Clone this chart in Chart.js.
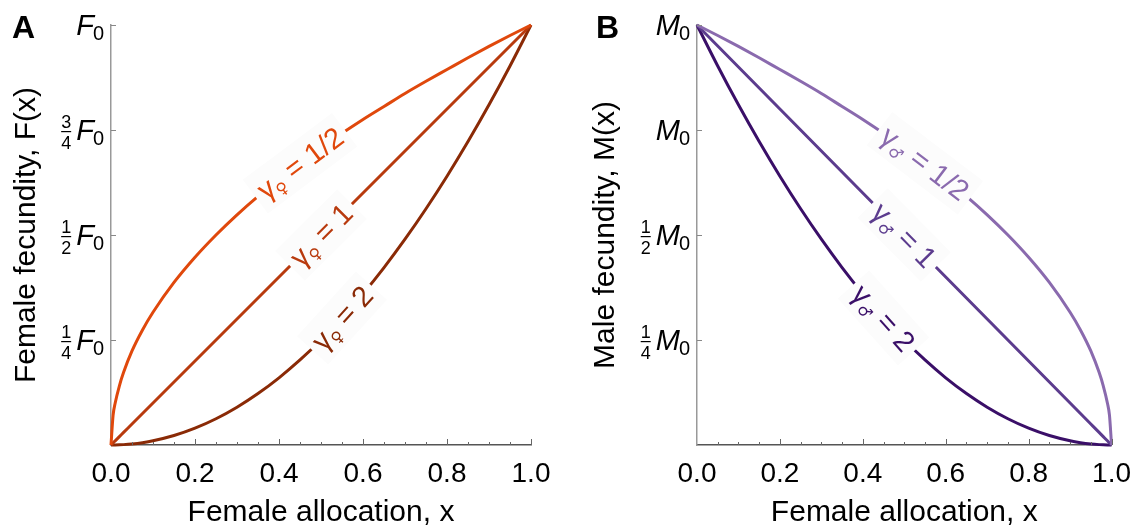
<!DOCTYPE html>
<html>
<head>
<meta charset="utf-8">
<script src="https://cdn.jsdelivr.net/npm/chart.js@4.4.1/dist/chart.umd.min.js"></script>
<style>
	html, body { margin: 0; padding: 0; background: #fff; }
	#wrap { position: relative; width: 1143px; height: 531px; overflow: hidden; }
	#wrap canvas { position: absolute; top: 0; }
</style>
</head>
<body>
<div id="wrap">
	<canvas id="chartA" width="571" height="531" style="left:0"></canvas>
	<canvas id="chartB" width="572" height="531" style="left:571px"></canvas>
</div>
<script>
'use strict';

// female allocation sampled along each panel (denser where the curves are steep)
var xFemale = [0, 0.005, 0.01, 0.02, 0.03, 0.05, 0.075, 0.1, 0.15, 0.2, 0.25, 0.3, 0.35, 0.4, 0.45, 0.5, 0.55, 0.6, 0.65, 0.7, 0.75, 0.8, 0.85, 0.9, 0.95, 1.0];
var xMale = [0, 0.05, 0.1, 0.15, 0.2, 0.25, 0.3, 0.35, 0.4, 0.45, 0.5, 0.55, 0.6, 0.65, 0.7, 0.75, 0.8, 0.85, 0.9, 0.925, 0.95, 0.97, 0.98, 0.99, 0.995, 1.0];

// panel A : female fecundity (in units of F0)
var fGammaHalf = [0, 0.071, 0.1, 0.141, 0.173, 0.224, 0.274, 0.316, 0.387, 0.447, 0.5, 0.548, 0.592, 0.632, 0.671, 0.707, 0.742, 0.775, 0.806, 0.837, 0.866, 0.894, 0.922, 0.949, 0.975, 1.0];
var fGammaOne = [0, 0.005, 0.01, 0.02, 0.03, 0.05, 0.075, 0.1, 0.15, 0.2, 0.25, 0.3, 0.35, 0.4, 0.45, 0.5, 0.55, 0.6, 0.65, 0.7, 0.75, 0.8, 0.85, 0.9, 0.95, 1.0];
var fGammaTwo = [0, 0.00003, 0.0001, 0.0004, 0.0009, 0.0025, 0.0056, 0.01, 0.0225, 0.04, 0.0625, 0.09, 0.1225, 0.16, 0.2025, 0.25, 0.3025, 0.36, 0.4225, 0.49, 0.5625, 0.64, 0.7225, 0.81, 0.9025, 1.0];

// panel B : male fecundity (in units of M0)
var mGammaHalf = [1.0, 0.975, 0.949, 0.922, 0.894, 0.866, 0.837, 0.806, 0.775, 0.742, 0.707, 0.671, 0.632, 0.592, 0.548, 0.5, 0.447, 0.387, 0.316, 0.274, 0.224, 0.173, 0.141, 0.1, 0.071, 0];
var mGammaOne = [1.0, 0.95, 0.9, 0.85, 0.8, 0.75, 0.7, 0.65, 0.6, 0.55, 0.5, 0.45, 0.4, 0.35, 0.3, 0.25, 0.2, 0.15, 0.1, 0.075, 0.05, 0.03, 0.02, 0.01, 0.005, 0];
var mGammaTwo = [1.0, 0.9025, 0.81, 0.7225, 0.64, 0.5625, 0.49, 0.4225, 0.36, 0.3025, 0.25, 0.2025, 0.16, 0.1225, 0.09, 0.0625, 0.04, 0.0225, 0.01, 0.0056, 0.0025, 0.0009, 0.0004, 0.0001, 0.00003, 0];

// curve labels
var gammaLabels = ['1/2', '1', '2'];

// tick labels
var xTickValues = [0, 0.2, 0.4, 0.6, 0.8, 1.0];
var yTickValues = [0.25, 0.5, 0.75, 1.0];
var fTickFracs = [['1', '4'], ['1', '2'], ['3', '4'], null];
var mTickFracs = [['1', '4'], ['1', '2'], null, null];

var FONT = '"Liberation Sans", Arial, Helvetica, sans-serif';

/**
 * Zip x and y arrays into points for a linear x scale
 */
function toPoints(xs, ys){
	var i, pts = [];
	for(i = 0; i < xs.length; i++){
		pts.push({x : xs[i], y : ys[i]});
	}
	return pts;
}

/**
 * Draw a rotated "γ♀ = 1/2" label sitting on a curve, with a pale box behind it
 */
function drawCurveLabel(ctx, chart, dsIndex, idx, sym, value, color){
	var pts = chart.getDatasetMeta(dsIndex).data,
		p = pts[idx], a = pts[idx - 1], b = pts[idx + 1],
		ang = Math.atan2(b.y - a.y, b.x - a.x),
		wG, wS, wV, total, x0;

	ctx.save();
	ctx.translate(p.x, p.y);
	ctx.rotate(ang);

	ctx.font = '29px ' + FONT;
	wG = ctx.measureText('\u03b3').width;
	wV = ctx.measureText(' = ' + value).width;
	ctx.font = '16px "DejaVu Sans"';
	wS = ctx.measureText(sym).width;
	total = wG + wS + wV;
	x0 = -total / 2;

	ctx.fillStyle = '#fcfcfc';
	ctx.fillRect(x0 - 6, -21, total + 12, 42);

	ctx.fillStyle = color;
	ctx.textAlign = 'left';
	ctx.textBaseline = 'alphabetic';
	ctx.font = '29px ' + FONT;
	ctx.fillText('\u03b3', x0, 10);
	ctx.font = '16px "DejaVu Sans"';
	ctx.fillText(sym, x0 + wG, 15);
	ctx.font = '29px ' + FONT;
	ctx.fillText(' = ' + value, x0 + wG + wS, 10);
	ctx.restore();
}

/**
 * Plugin drawing the inside ticks, the F0 / M0 tick labels, panel letter and curve labels
 */
var panelDeco = {
	id : 'panelDeco',
	afterDatasetsDraw : function(chart, args, opts){
		var ctx = chart.ctx, i;
		for(i = 0; i < opts.colors.length; i++){
			drawCurveLabel(ctx, chart, i, opts.labelIdx[i], opts.sym, gammaLabels[i], opts.colors[i]);
		}
	},
	afterDraw : function(chart, args, opts){
		var ctx = chart.ctx,
			xs = chart.scales.x, ys = chart.scales.y,
			area = chart.chartArea,
			i, v, px, py, right, frac, wSub, wLet, fx;

		ctx.save();

		//x ticks pointing inward: major every 0.2, minor every 0.05
		ctx.strokeStyle = '#666';
		ctx.lineWidth = 1;
		for(i = 1; i <= 20; i++){
			v = i / 20;
			px = Math.round(xs.getPixelForValue(v)) + 0.5;
			ctx.beginPath();
			ctx.moveTo(px, area.bottom);
			ctx.lineTo(px, area.bottom - (i % 4 === 0 ? 6 : 3));
			ctx.stroke();
		}

		//y ticks pointing inward
		ctx.strokeStyle = '#888';
		for(i = 0; i < yTickValues.length; i++){
			py = Math.round(ys.getPixelForValue(yTickValues[i])) + 0.5;
			ctx.beginPath();
			ctx.moveTo(area.left, py);
			ctx.lineTo(area.left + 5, py);
			ctx.stroke();
		}

		//y tick labels : fraction + italic letter + subscript 0
		ctx.fillStyle = '#000';
		ctx.textBaseline = 'alphabetic';
		for(i = 0; i < yTickValues.length; i++){
			py = ys.getPixelForValue(yTickValues[i]);
			right = area.left - 7;
			ctx.font = '20px ' + FONT;
			wSub = ctx.measureText('0').width;
			ctx.textAlign = 'right';
			ctx.fillText('0', right, py + 15);
			ctx.font = 'italic 29px ' + FONT;
			wLet = ctx.measureText(opts.letter).width;
			ctx.fillText(opts.letter, right - wSub + 1, py + 10);
			frac = opts.fracs[i];
			if(frac){
				fx = right - wSub - wLet - 3;
				ctx.font = '18px ' + FONT;
				ctx.textAlign = 'center';
				ctx.fillText(frac[0], fx - 6, py - 2);
				ctx.fillText(frac[1], fx - 6, py + 19);
				ctx.fillRect(fx - 11, py + 1, 10, 1.2);
			}
		}

		//panel letter
		ctx.font = 'bold 32px ' + FONT;
		ctx.textAlign = 'left';
		ctx.fillText(opts.panel, opts.panelX, 38);
		ctx.restore();
	}
};

/**
 * Build one of the two panels
 */
function buildPanel(canvasId, xs, series, opts){
	var i, datasets = [];
	for(i = 0; i < series.length; i++){
		datasets.push({
			data : toPoints(xs, series[i]),
			borderColor : opts.colors[i],
			borderWidth : 3,
			pointRadius : 0,
			fill : false,
			clip : false,
			cubicInterpolationMode : 'monotone'
		});
	}

	return new Chart(document.getElementById(canvasId).getContext('2d'), {
		type : 'line',
		data : { datasets : datasets },
		options : {
			responsive : false,
			animation : false,
			devicePixelRatio : 1,
			layout : { padding : { top : 25, right : opts.padRight, left : 0, bottom : 0 } },
			plugins : {
				legend : { display : false },
				tooltip : { enabled : false },
				panelDeco : opts
			},
			scales : {
				x : {
					type : 'linear',
					min : 0,
					max : 1,
					afterFit : function(scale){ scale.height = 86; },
					afterBuildTicks : function(scale){
						scale.ticks = xTickValues.map(function(v){ return {value : v}; });
					},
					grid : { display : false, drawTicks : false },
					border : { display : true, color : '#555', width : 1.5 },
					ticks : {
						padding : 12,
						color : '#000',
						font : { family : FONT, size : 28 },
						maxRotation : 0,
						callback : function(v){ return Number(v).toFixed(1); }
					},
					title : {
						display : true,
						text : 'Female allocation, x',
						color : '#000',
						font : { family : FONT, size : 30 },
						padding : { top : 0, bottom : 0 }
					}
				},
				y : {
					type : 'linear',
					min : 0,
					max : 1,
					afterFit : function(scale){ scale.width = opts.axisLeft; },
					grid : { display : false, drawTicks : false },
					border : { display : true, color : '#999', width : 1.5 },
					ticks : { display : false },
					title : {
						display : true,
						text : opts.yTitle,
						color : '#000',
						font : { family : FONT, size : 30 },
						padding : { top : opts.yTitlePad, bottom : 0 }
					}
				}
			}
		},
		plugins : [panelDeco]
	});
}

buildPanel('chartA', xFemale, [fGammaHalf, fGammaOne, fGammaTwo], {
	colors : ['#e0480c', '#b83a0e', '#8a2a06'],
	labelIdx : [14, 15, 16],
	sym : '\u2640',
	letter : 'F',
	fracs : fTickFracs,
	panel : 'A',
	panelX : 12,
	axisLeft : 111,
	padRight : 40,
	yTitle : 'Female fecundity, F(x)',
	yTitlePad : 9
});

buildPanel('chartB', xMale, [mGammaHalf, mGammaOne, mGammaTwo], {
	colors : ['#8a6aae', '#5c3c8e', '#3a0f68'],
	labelIdx : [11, 10, 9],
	sym : '\u2642',
	letter : 'M',
	fracs : mTickFracs,
	panel : 'B',
	panelX : 25,
	axisLeft : 126,
	padRight : 26,
	yTitle : 'Male fecundity, M(x)',
	yTitlePad : 17
});
</script>
</body>
</html>
